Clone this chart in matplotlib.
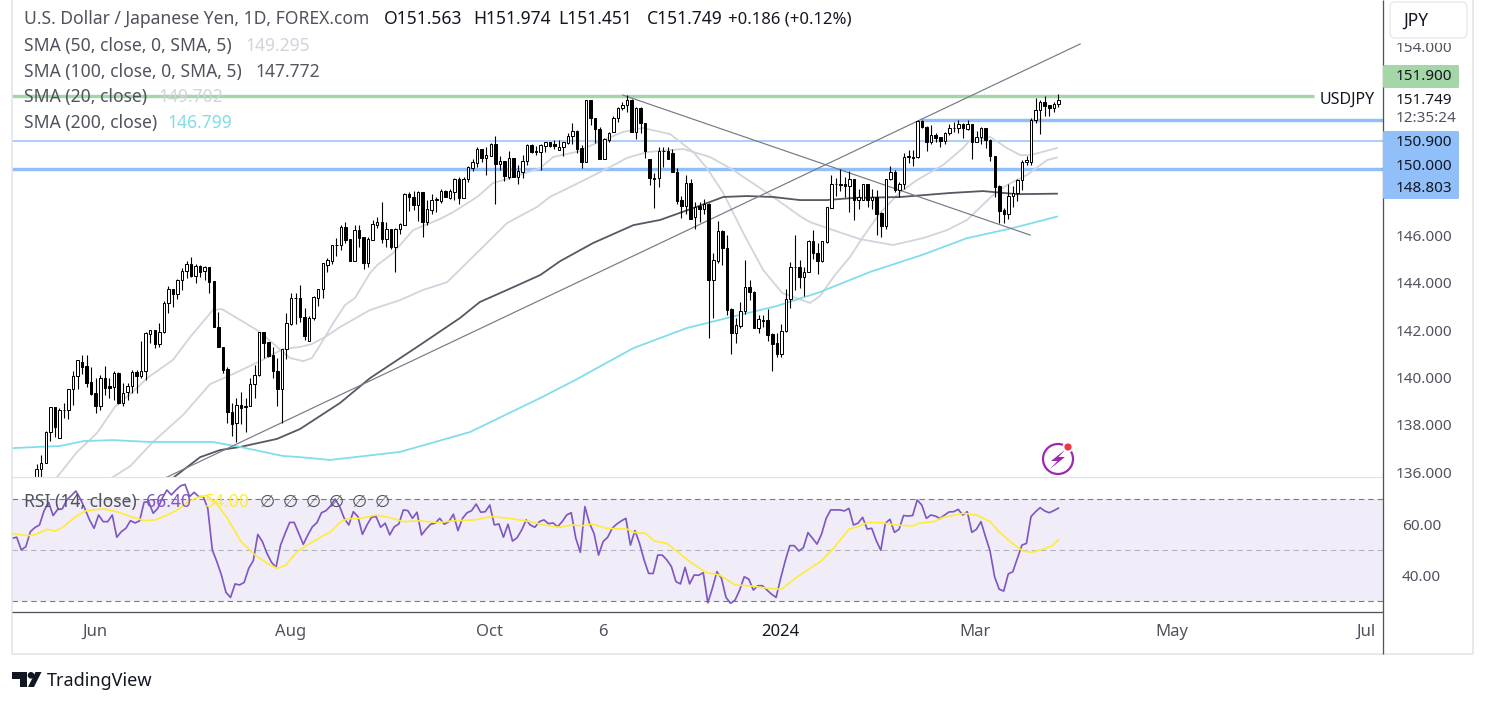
import numpy as np
import matplotlib
matplotlib.use("Agg")
import matplotlib.pyplot as plt
from matplotlib.patches import Rectangle, FancyBboxPatch, Arc, Circle, Polygon

FONT = ["Noto Sans", "DejaVu Sans"]
plt.rcParams["font.family"] = FONT

opens = [135.67,136.12,136.37,137.68,138.74,137.43,138.61,138.61,139.50,140.05,
140.64,140.48,139.79,139.33,138.81,139.96,139.64,139.61,140.17,138.93,
139.37,139.62,140.22,140.08,140.29,141.85,141.99,141.43,141.91,143.13,
143.76,143.51,144.10,144.48,144.79,144.31,144.71,144.48,144.65,144.06,
142.12,141.30,140.34,138.53,138.06,138.82,138.74,138.81,139.71,140.09,
141.93,141.48,140.95,140.26,139.50,141.19,142.26,143.34,143.34,142.54,
141.55,142.50,143.37,143.72,144.77,144.94,145.59,145.59,146.36,145.85,
144.94,146.23,145.92,144.85,145.81,146.46,146.56,145.87,146.26,145.53,
146.26,146.46,147.74,147.64,147.29,147.83,146.59,147.08,147.52,147.47,
147.88,147.59,147.85,148.38,147.60,148.38,148.87,149.08,149.64,149.28,
149.38,149.87,149.02,149.15,148.49,149.30,148.49,148.70,149.16,149.81,
149.56,149.53,149.80,149.94,149.85,149.62,149.73,149.92,150.22,150.42,
149.69,149.09,151.73,150.95,150.49,149.22,150.04,150.36,150.99,151.38,
151.54,151.73,150.39,151.39,150.74,149.22,148.43,148.42,149.56,149.57,
149.47,148.70,147.50,147.26,148.21,146.80,147.23,147.14,147.32,144.12,
144.94,146.19,145.46,142.90,141.90,142.18,142.80,143.84,143.60,142.11,
142.44,142.43,141.83,141.45,141.00,141.98,143.30,144.66,144.66,144.23,
144.47,145.77,145.28,144.92,145.74,147.17,148.16,148.16,148.16,148.10,
148.37,147.50,147.50,148.16,147.50,147.61,146.94,146.41,148.37,148.67,
147.92,148.20,149.34,149.34,149.34,150.84,150.60,149.94,150.25,150.15,
150.00,150.32,150.53,150.53,150.70,150.49,150.70,149.96,150.15,150.53,
150.06,149.37,148.09,147.06,146.93,147.68,147.78,148.34,149.09,149.09,
150.87,151.29,151.63,151.51,151.40,151.563]
closes = [136.12,136.37,137.69,138.74,137.89,138.61,138.62,139.50,140.05,140.72,
140.46,139.78,139.31,138.81,139.96,139.57,139.57,140.17,138.91,139.36,
139.62,140.22,140.08,140.29,141.86,141.99,141.41,141.91,143.13,143.76,
143.51,144.10,144.48,144.79,144.30,144.71,144.47,144.65,144.05,142.12,
141.30,140.31,138.53,138.03,138.82,138.72,138.81,139.71,140.09,141.93,
141.47,140.91,140.26,139.50,141.19,142.29,143.34,143.36,142.54,141.77,
142.50,143.40,143.74,144.82,144.97,145.59,145.60,146.36,145.81,144.92,
146.23,145.90,144.85,145.85,146.47,146.56,145.85,146.26,145.53,146.26,
146.47,147.74,147.64,147.29,147.84,146.59,147.11,147.50,147.54,147.88,
147.61,147.88,148.38,147.60,148.39,148.88,149.09,149.66,149.28,149.39,
149.87,149.02,149.14,148.52,149.30,148.49,148.71,149.16,149.83,149.53,
149.54,149.81,149.94,149.80,149.80,149.73,149.94,150.23,150.40,149.64,
149.09,151.73,150.95,150.49,149.22,150.07,150.35,150.99,151.38,151.54,
151.73,150.39,151.39,150.74,149.57,148.42,148.40,149.57,149.58,149.22,
148.70,147.47,147.26,148.21,146.68,147.22,147.14,147.32,144.12,144.95,
146.18,145.46,142.85,141.90,142.22,142.80,143.84,143.60,142.11,142.46,
142.40,141.80,141.42,141.00,141.98,143.30,144.66,144.68,144.23,144.47,
145.77,145.28,144.94,145.77,147.19,148.16,148.18,148.14,148.10,148.37,
147.50,147.64,148.16,147.50,147.61,146.91,146.41,148.37,148.67,147.92,
148.20,149.34,149.36,149.30,150.84,150.60,149.94,150.25,150.11,150.00,
150.32,150.53,150.55,150.70,150.53,150.70,149.96,150.15,150.53,150.06,
149.37,148.06,147.03,146.93,147.68,147.78,148.34,149.09,149.19,150.87,
151.29,151.63,151.49,151.40,151.58,151.749]
highs = [136.33,136.71,137.72,138.74,138.74,138.70,138.91,139.50,140.27,140.72,
140.93,140.93,140.43,139.96,140.09,140.48,139.96,140.26,140.24,139.78,
139.78,140.31,140.31,141.54,141.92,142.00,142.00,142.29,143.23,143.88,
143.76,144.15,144.61,144.93,145.08,144.79,144.75,144.71,144.65,144.09,
142.77,141.30,140.43,138.93,139.15,139.38,139.12,139.96,140.53,141.93,
141.93,141.48,141.30,140.81,141.19,142.71,143.55,143.55,143.91,142.92,
142.60,143.46,143.76,144.85,145.04,145.59,145.88,146.45,146.57,145.85,
146.45,146.45,145.92,145.95,146.66,146.80,147.40,146.57,146.26,146.32,
146.54,147.81,147.85,147.87,147.90,147.83,147.50,147.76,147.61,147.97,
147.93,147.95,148.42,148.46,148.46,148.94,149.23,149.76,149.64,149.73,
149.92,150.21,149.36,149.15,149.57,149.30,148.98,149.40,149.87,149.85,
149.78,149.87,149.97,149.97,150.04,150.04,149.94,150.32,150.78,150.46,
149.83,151.73,151.73,150.99,150.57,150.11,150.38,151.05,151.45,151.64,
151.95,151.78,151.45,151.45,150.77,149.22,148.63,149.76,149.76,149.76,
149.68,148.84,147.67,148.56,148.38,147.43,147.43,147.53,147.36,145.25,
146.60,146.23,146.02,142.92,142.53,143.21,144.97,144.12,143.66,142.64,
142.64,142.88,141.87,141.90,142.25,143.73,144.87,146.02,144.97,144.66,
145.81,146.23,145.67,145.77,147.22,148.55,148.44,148.81,148.48,148.72,
148.41,147.96,148.20,148.20,147.96,147.92,147.00,148.37,148.93,148.77,
148.27,149.47,149.61,149.61,150.89,150.89,150.63,150.67,150.32,150.18,
150.39,150.70,150.81,150.88,150.78,150.89,150.70,150.40,150.60,150.56,
150.10,149.37,148.13,147.17,148.20,148.09,148.37,149.19,149.37,150.98,
151.82,151.75,151.89,151.54,151.65,151.974]
lows = [135.38,135.74,136.37,137.33,137.50,137.43,138.27,138.26,138.84,139.53,
140.15,139.61,139.26,138.48,138.62,139.26,139.12,139.05,138.88,138.81,
139.05,139.33,139.33,139.96,139.89,141.44,141.26,141.27,141.89,142.74,
142.96,143.31,143.69,144.19,144.26,144.00,144.26,144.12,143.58,142.12,
141.30,140.20,138.06,137.53,137.27,138.03,137.71,138.79,139.15,140.06,
140.81,140.88,139.96,138.81,138.09,140.77,142.22,142.26,142.36,141.58,
141.55,142.43,143.02,143.34,144.47,144.80,145.14,145.39,145.67,144.92,
144.94,145.53,144.59,144.66,145.81,146.32,145.70,145.53,145.42,144.47,
146.07,146.46,147.05,147.08,146.63,145.95,146.45,146.91,147.01,147.39,
147.61,147.53,147.50,147.33,147.57,148.28,148.73,148.88,149.12,148.56,
149.38,147.33,148.77,148.31,148.38,148.46,148.18,148.43,148.98,149.50,
149.40,148.77,149.53,149.73,149.64,149.60,149.36,149.85,149.87,149.50,
148.84,149.09,150.67,149.90,149.22,149.22,149.97,150.36,150.81,151.30,
151.23,150.39,150.08,150.35,149.26,148.14,147.16,148.07,148.88,149.22,
148.70,147.33,146.73,146.91,146.68,146.26,146.59,146.91,141.68,142.53,
144.85,144.76,142.64,141.00,141.47,142.08,142.69,143.28,142.11,141.90,
142.15,141.56,140.29,140.85,140.85,141.94,142.92,143.70,143.77,143.45,
144.47,145.00,144.38,144.88,145.70,147.15,147.67,147.88,147.64,147.00,
146.65,147.12,147.50,147.22,147.12,146.02,145.95,146.27,148.34,147.85,
147.64,147.96,149.05,148.93,149.26,150.56,149.57,149.87,149.94,149.75,
149.85,150.27,150.36,150.32,150.13,150.46,149.23,149.94,149.85,149.71,
149.15,147.64,146.54,146.54,146.68,147.22,147.47,147.92,148.98,149.00,
150.77,150.29,151.06,151.06,151.23,151.451]

sma20_day = [4.5,8.9,13.3,17.2,22.1,24.3,30,33.8,38.8,40.8,44.8,49.2,52.9,55.8,58.7,60.6,62,63.5,65.3,67.9,70.1,73.4,75,78.5,82.9,88.8,91.7,97,100.5,104.9,110.9,113.7,119.7,121.2,129.1,133.5,139.5,144.6,147.6,151.2,155.6,160,164.2,170.3,172.5,175.8,179.1,181.8,185.7,190.2,193.9,199.6,204,205.6,210,213.7,216.6,218.8,224.7]
sma20_val = [135.79,136.85,137.65,138.75,139.55,139.97,140.74,141.71,142.85,142.89,142.43,141.92,141.29,140.82,140.69,140.82,141.24,141.71,142.30,143.06,143.36,144.41,144.75,145.26,146.23,146.70,146.99,147.63,148.22,148.47,148.85,149.32,149.57,149.74,150.38,150.55,150.29,149.53,148.85,147.80,146.11,144.54,143.57,143.15,143.44,144.33,145.09,145.89,146.95,147.84,148.35,148.98,149.70,150.04,150.17,149.70,149.40,149.40,149.70]
sma50_day = [16.8,20.6,25.6,32.2,38.2,43.2,49.2,54.2,58,60.6,63.5,66.8,73.4,80,85.1,90.4,97.6,103.6,110.2,113,119.7,126.3,130,134.4,142.4,148.3,153.4,159.3,165.3,168.1,170.3,175.4,181.3,188.6,195.2,200.5,204.9,210.6,213.7,218.1,222.5,224.7]
sma50_val = [135.79,136.25,137.27,138.41,139.72,140.14,140.69,141.20,141.29,141.41,141.71,142.13,142.85,143.27,143.70,144.03,145.39,146.53,147.21,147.63,148.26,148.90,149.28,149.53,149.66,149.32,148.77,148.01,147.21,146.82,146.57,146.23,145.85,145.60,145.89,146.23,146.66,147.71,148.14,148.56,149.19,149.30]
sma100_day = [30,36,40.4,44.8,52.9,58,66.8,73.4,84.4,93.2,97.6,103.6,110.9,115.3,122.5,131.4,137.3,144.6,151.2,156.4,162.2,168.1,174,179.8,190.2,201.2,208.4,215.9,224.7]
sma100_val = [135.75,136.63,136.93,137.06,137.40,137.82,138.92,139.97,141.37,142.51,143.19,143.70,144.33,144.92,145.68,146.44,146.66,147.16,147.63,147.67,147.63,147.50,147.50,147.59,147.63,147.80,147.88,147.75,147.77]
sma200_day = [-5.4,0,5.1,10.4,16.8,25,38.8,44.8,54.2,58,64.6,80,95.4,110.9,118.6,131.4,143.2,152,163,172.5,183.5,195,204.9,215,224.7]
sma200_val = [137.01,137.06,137.10,137.31,137.35,137.27,137.27,137.06,136.68,136.63,136.51,136.85,137.69,139.13,139.89,141.24,142.09,142.51,143.02,143.61,144.46,145.18,145.89,146.32,146.80]

trend_up_day = [28.3, 229.8]
trend_up_val = [135.75, 154.10]
trend_down_day = [129.1, 218.8]
trend_down_val = [151.94, 146.02]

rsi_a = [54.6,55.0,50.0,51.3,57.2,58.8,59.8,65.3,68.7,63.5,65.9,66.1,69.6,71.3,73.1,70.0,66.1,61.8,58.5,63.7,61.1,61.1,63.7,55.0,57.2,58.5,61.5,60.6,61.4,68.7,68.9,64.4,66.3,70.3,73.5,71.6,73.5,75.1,75.7,70.9,72.6,70.9,70.9,66.3,50.0,45.4,40.2,33.4,31.4,36.7,36.3,37.3,42.8,45.8,56.1,53.3,48.7,45.2,43.2,51.9,56.5,60.8,60.8,56.5,52.2,55.9,59.1,60.7,64.6,65.4,67.3,70.0,67.0,62.4,59.8,65.0,63.1,56.1,59.8,62.8,63.1,58.9,60.5,55.9,59.1,60.2,65.7,65.4,62.4,64.8,55.9,58.2,60.1,60.5,62.4,60.1,61.1,64.0,57.6,62.4,64.6,65.4,68.0,64.8,65.0,67.6,59.8,60.2,55.0,60.1,53.5,54.8,57.8,61.8]
rsi_b = [59.8,58.9,61.1,61.8,60.3,60.6,59.1,61.1,63.7,64.6,54.6,49.1,67.0,60.5,56.5,48.0,53.3,55.0,58.5,60.2,61.4,62.4,51.9,57.6,52.6,46.1,40.8,40.8,48.0,48.0,46.1,43.5,37.6,36.7,43.2,36.7,40.2,40.1,41.1,29.3,35.0,41.5,38.9,31.4,29.1,30.4,34.3,39.5,38.6,34.3,36.0,36.0,34.3,32.7,31.4,38.9,45.7,51.7,51.7,49.6,50.9,56.8,54.6,52.3,56.3,62.4,65.7,65.7,65.7,65.3,66.3,59.8,60.5,62.8,58.2,58.5,53.7,49.9,60.5,62.0,56.9,58.1,63.5,63.3,63.5,69.6,67.6,62.4,63.7,63.3,62.3,63.7,64.9,65.0,65.9,63.7,65.0,56.9,58.1,61.1,55.2,49.6,39.5,34.6,33.9,40.6,41.5,46.7,51.9,52.6,63.1,65.0,66.6,65.3,64.6,65.4,66.4]
rsi_ma_day = [-5.4,-2,-0.1,2.2,4.1,5.9,8.6,10.9,14.7,17.7,20.7,23.8,26.1,29.1,31,32.9,35.2,37.4,39.3,42,45,48.1,51.1,53,54.9,57.2,60.2,62.5,64.8,67,68.5,71.6,74.6,77.6,80.7,84.5,88.3,92,96.6,100,104.2,108.7,111.7,115.2,117.8,120.1,122.4,125.4,130,131.5,134.1,136,138.7,141.3,144,147.4,150.4,153.8,157.3,161,164,167.5,172.8,175.5,178.9,180.8,183,186.1,189,192.9,194.4,197.5,199.7,204.3,207.3,210,211.9,214.9,217.2,219.1,221.8,223.7,225]
rsi_ma_val = [56.5,55.6,56.1,58.1,57.4,59.1,63.1,65.4,66.1,65.0,63.1,61.5,61.8,64.0,65.7,68.3,70.5,71.3,68.9,62.4,53.3,48.0,44.4,42.8,44.1,49.1,52.6,55.0,57.2,61.1,62.2,62.4,63.7,62.8,61.1,61.4,60.7,61.5,61.8,63.1,62.4,61.1,59.8,58.9,59.8,59.5,60.2,58.5,58.2,56.9,56.5,53.5,52.6,49.1,45.2,41.2,40.2,36.3,35.9,35.0,34.6,39.5,45.7,50.7,58.2,59.1,60.8,60.7,59.8,59.4,60.5,61.1,62.8,64.4,63.5,61.1,57.2,52.6,49.6,49.1,50.4,51.7,54.0]

levels_full = [151.9, 150.0, 148.803]
level_short = 150.9
price_ticks = [136, 138, 140, 142, 144, 146, 154]
rsi_ticks = [40, 60]
time_tick_days = [12.8, 55.8, 99.8, 124.7, 163.8, 206.7, 250, 292.8]
time_tick_labels = ["Jun", "Aug", "Oct", "6", "2024", "Mar", "May", "Jul"]

W, H = 1488, 707
INK = "#131722"
GREY = "#50535e"
LIGHT = "#e0e3eb"
SMA_LIGHT = "#d1d4dc"
SMA_DARK = "#555862"
CYAN = "#80deea"
GREEN = "#a5d6a7"
BLUE = "#90bff9"
PURPLE = "#7e57c2"
YELLOW = "#ffeb3b"
TREND = "#787b86"
PX = 0.72

fig = plt.figure(figsize=(W / 100, H / 100), dpi=100, facecolor="white")
ax = fig.add_axes([12 / W, 1 - 477 / H, (1383 - 12) / W, 477 / H])
ax2 = fig.add_axes([12 / W, 1 - 612 / H, (1383 - 12) / W, (612 - 477) / H])
XLIM = (-5.44, 296.5)
for a in (ax, ax2):
    a.set_xlim(*XLIM)
    for s in a.spines.values():
        s.set_visible(False)
ax.set_ylim(135.79, 155.96)
ax2.set_ylim(25.7, 78.6)

# horizontal levels
ax.hlines(levels_full[1], XLIM[0], XLIM[1], color=BLUE, lw=1.5 * PX, zorder=1)
ax.hlines(levels_full[2], XLIM[0], XLIM[1], color=BLUE, lw=3.4 * PX, zorder=1)
ax.hlines(level_short, 194.5, XLIM[1], color=BLUE, lw=3.4 * PX, zorder=1)
ax.hlines(levels_full[0], XLIM[0], 281.4, color=GREEN, lw=3.4 * PX, zorder=1)

# moving averages
ax.plot(sma20_day, sma20_val, color=SMA_LIGHT, lw=1.8 * PX, zorder=2)
ax.plot(sma50_day, sma50_val, color=SMA_LIGHT, lw=1.8 * PX, zorder=2)
ax.plot(sma100_day, sma100_val, color=SMA_DARK, lw=1.8 * PX, zorder=2)
ax.plot(sma200_day, sma200_val, color=CYAN, lw=1.8 * PX, zorder=2)
ax.plot(trend_up_day, trend_up_val, color=TREND, lw=1.2 * PX, zorder=3)
ax.plot(trend_down_day, trend_down_val, color=TREND, lw=1.2 * PX, zorder=3)

# candles
o, h, l, c = map(np.asarray, (opens, highs, lows, closes))
days = np.arange(len(o))
up = c >= o
ax.vlines(days, l, h, color="black", lw=1.1 * PX, zorder=4)
ax.bar(days[up], (c - o)[up], bottom=o[up], width=0.55, facecolor="white",
       edgecolor="black", linewidth=1.0 * PX, zorder=5)
ax.bar(days[~up], (c - o)[~up], bottom=o[~up], width=0.55, facecolor="black",
       edgecolor="black", linewidth=1.0 * PX, zorder=5)

ax.yaxis.tick_right()
ax.set_yticks(price_ticks)
ax.set_yticklabels([f"{v:.3f}" for v in price_ticks], fontsize=11, color=GREY, ha="left")
ax.tick_params(axis="y", length=0, pad=9.4)
ax.set_xticks([])

# RSI pane
ax2.axhspan(30, 70, color=PURPLE, alpha=0.1, lw=0, zorder=0)
for lvl, col in ((70, TREND), (50, "#b2b5be"), (30, TREND)):
    ax2.axhline(lvl, color=col, lw=1.1 * PX, dashes=(5, 3.5), zorder=1)
rsi_x_a = np.linspace(-5.4, 107.8, len(rsi_a))
rsi_x_b = np.linspace(108.7, 225, len(rsi_b))
ax2.plot(np.r_[rsi_x_a, rsi_x_b], rsi_a + rsi_b, color=PURPLE, lw=1.7 * PX, zorder=3)
ax2.plot(rsi_ma_day, rsi_ma_val, color=YELLOW, lw=1.7 * PX, zorder=4)
ax2.yaxis.tick_right()
ax2.set_yticks(rsi_ticks)
ax2.set_yticklabels([f"{v:.2f}" for v in rsi_ticks], fontsize=11, color=GREY, ha="left")
ax2.tick_params(axis="y", length=0, pad=13.6)
ax2.set_xticks(time_tick_days)
ax2.set_xticklabels(time_tick_labels, fontsize=12, color=GREY)
ax2.tick_params(axis="x", length=0, pad=8.5)
for lab in ax2.get_xticklabels():
    if lab.get_text() == "2024":
        lab.set_fontweight("bold")
        lab.set_color(INK)

# pixel overlay for chart furniture
ov = fig.add_axes([0, 0, 1, 1], zorder=10)
ov.set_xlim(0, W)
ov.set_ylim(H, 0)
ov.axis("off")
ov.patch.set_alpha(0)


def px_line(x, y, col, lw=1.0):
    ov.plot(x, y, color=col, lw=lw * PX, solid_capstyle="butt", zorder=1)


def txt(x, y, s, col=GREY, size=11, **kw):
    ov.text(x, y, s, color=col, fontsize=size, va="center", ha=kw.pop("ha", "left"), zorder=6, **kw)


px_line([12, 12], [0, 654], LIGHT, 1.5)
px_line([12, 1473], [654, 654], LIGHT, 1.5)
px_line([1473, 1473], [0, 654], LIGHT, 1.5)
px_line([12, 1383], [477, 477], LIGHT, 1.2)
px_line([12, 1383], [612, 612], GREY, 1.3)
px_line([1383, 1383], [0, 654], GREY, 1.3)

# currency button
ov.add_patch(Rectangle((1385, 38), 86, 4.5, facecolor="white", edgecolor="none", zorder=3))
ov.add_patch(FancyBboxPatch((1390, 2), 77, 36, boxstyle="round,pad=0,rounding_size=5",
                            facecolor="white", edgecolor=LIGHT, lw=1.1 * PX, zorder=3))
txt(1403, 21, "JPY", INK, 12.5)

# price labels
ov.add_patch(FancyBboxPatch((1383, 65), 76, 23, boxstyle="round,pad=0,rounding_size=1.5",
                            facecolor=GREEN, edgecolor="none", zorder=4))
ov.add_patch(FancyBboxPatch((1383, 131), 76, 68, boxstyle="round,pad=0,rounding_size=1.5",
                            facecolor=BLUE, edgecolor="none", zorder=4))
txt(1396, 77, "151.900", INK)
txt(1396, 100, "151.749", INK)
txt(1396, 119, "12:35:24", GREY)
txt(1396, 143, "150.900", INK)
txt(1396, 166, "150.000", INK)
txt(1396, 189, "148.803", INK)
txt(1320, 99.5, "USDJPY", INK, 11.5)

# legend
LEG = 12.6
txt(24, 19.5, "U.S. Dollar / Japanese Yen, 1D, FOREX.com", GREY, LEG)
txt(384, 19.5, "O151.563", INK, LEG)
txt(473, 19.5, "H151.974", INK, LEG)
txt(558, 19.5, "L151.451", INK, LEG)
txt(647, 19.5, "C151.749", INK, LEG)
txt(728, 19.5, "+0.186 (+0.12%)", INK, LEG * 0.95)
for y, name, nx, val, col in [
    (46, "SMA (50, close, 0, SMA, 5)", 245, "149.295", SMA_LIGHT),
    (72, "SMA (100, close, 0, SMA, 5)", 255, "147.772", SMA_DARK),
    (97, "SMA (20, close)", 158, "149.702", SMA_LIGHT),
    (123, "SMA (200, close)", 167, "146.799", CYAN),
]:
    txt(24, y, name, GREY, LEG)
    txt(nx, y, val, col, LEG)
txt(24, 502, "RSI (14, close)", GREY, LEG)
txt(146, 502, "66.40", PURPLE, LEG)
txt(205, 502, "54.00", YELLOW, LEG)
for xx in (260, 283, 306, 329, 352, 375):
    txt(xx, 502, "\u2205", GREY, LEG)

# alert icon
ov.add_patch(Arc((1058, 459), 30, 30, theta1=0, theta2=360, color="#9c27b0", lw=2.2 * PX, zorder=4))
ov.add_patch(Polygon([(1066, 449), (1051, 461), (1057.5, 461), (1050, 469), (1065, 457), (1058.5, 457)],
                     closed=True, facecolor="#9c27b0", edgecolor="none", zorder=4))
ov.add_patch(Circle((1068, 447), 5.5, facecolor="white", edgecolor="none", zorder=4))
ov.add_patch(Circle((1068, 447), 3.6, facecolor="#f23645", edgecolor="none", zorder=5))

# brand
ov.add_patch(Polygon([(12, 672), (27, 672), (27, 687), (19.5, 687), (19.5, 679), (12, 679)],
                     closed=True, facecolor=INK, edgecolor="none"))
ov.add_patch(Circle((31, 675.3), 3.3, facecolor=INK, edgecolor="none"))
ov.add_patch(Polygon([(35.5, 672), (41.5, 672), (34, 687), (28, 687)],
                     closed=True, facecolor=INK, edgecolor="none"))
txt(47, 681, "TradingView", INK, 13)

fig.savefig("out.png", dpi=100, facecolor="white")
